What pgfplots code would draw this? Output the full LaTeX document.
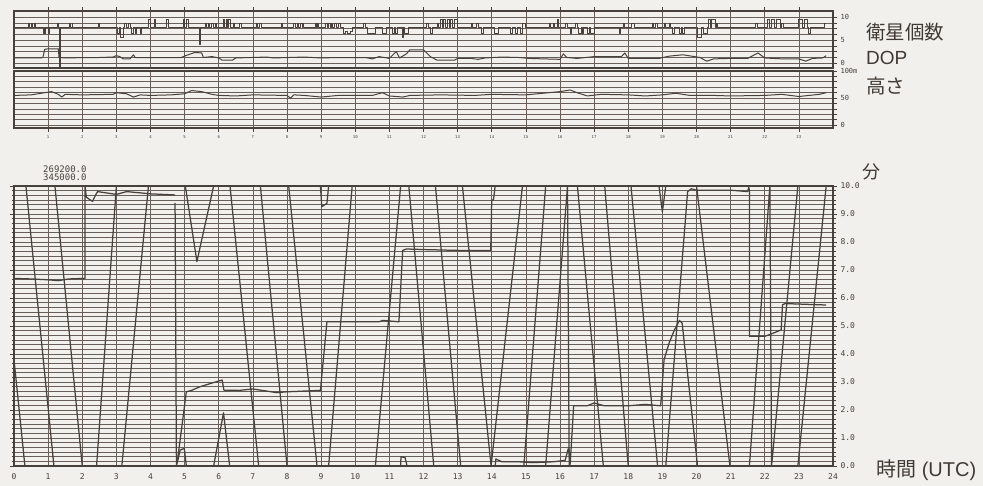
\documentclass[border=0pt]{standalone}
\usepackage{pgfplots}
\pgfplotsset{compat=1.18}
\usepackage{fontspec}
\setmainfont{DejaVu Sans}
\setmonofont{DejaVu Sans Mono}
\newfontfamily\jpfont{Noto Sans CJK JP}
\newfontfamily\latinfont{Liberation Sans}
\definecolor{paper}{HTML}{F1F0EC}
\definecolor{ink}{HTML}{48403A}
\definecolor{rule}{HTML}{675F58}

\pgfplotsset{
  recorder/.style={
    scale only axis, anchor=south west,
    width=819pt, xmin=0, xmax=24,
    axis line style={ink, line width=1.1pt},
    grid style={rule, line width=0.7pt},
    minor grid style={rule, line width=0.7pt},
    tick style={ink, line width=0.7pt},
    tick align=outside,
    major tick length=4pt, minor tick length=2.5pt,
    /pgf/number format/assume math mode=true,
    ticklabel style={text=ink, font=\ttfamily\fontsize{7.5}{8}\selectfont},
  },
  trace/.style={ink, line width=1.25pt, line join=round},
}

\begin{document}
\begin{tikzpicture}
\fill[paper] (0pt,0pt) rectangle (983pt,486pt);
\useasboundingbox (0pt,0pt) rectangle (983pt,486pt);

% ---------- satellites and DOP ----------
\begin{axis}[recorder, at={(14pt,418pt)}, height=57pt,
  ymin=-1.1, ymax=11.4,
  xtick={1,...,23}, xticklabels={}, xtick pos=right, xmajorgrids,
  ytick={0,1.25,...,10}, yticklabels={0,,,,5,,,,10},
  ytick pos=right, yticklabel pos=right, ymajorgrids,
  yticklabel style={font=\ttfamily\fontsize{7}{7}\selectfont}]
% satellites in view
\addplot[trace, const plot, line width=1pt] coordinates {
(0,7.7)
(0.42,8.6)(0.45,7.7)(0.5,8.6)(0.53,7.7)(0.6,8.6)(0.63,7.7)
(0.86,6.5)(0.89,7.7)(0.9,6.5)(0.93,7.7)(1.0,6.5)(1.03,7.7)
(1.27,8.6)(1.3,7.7)(1.33,-1.0)(1.35,7.7)
(1.64,8.6)(1.67,7.7)(1.7,8.6)(1.72,7.7)
(2.47,8.6)(2.5,7.7)
(3.03,6.5)(3.1,7.7)(3.12,5.5)(3.2,7.7)(3.25,8.6)(3.3,7.7)(3.35,8.6)(3.42,7.7)(3.45,6.5)(3.5,7.7)(3.55,6.5)(3.6,7.7)(3.72,6.5)(3.75,7.7)
(3.95,9.6)(4.0,7.7)(4.12,9.6)(4.15,7.7)(4.48,9.6)(4.52,7.7)(4.97,9.6)(5.0,7.7)(5.05,9.6)(5.1,7.7)
(5.43,4.0)(5.47,7.7)
(5.6,8.6)(5.64,7.7)(5.7,8.6)(5.74,7.7)(5.8,8.6)(5.84,7.7)(5.9,8.6)(5.94,7.7)
(6.14,9.6)(6.18,7.7)(6.22,9.6)(6.26,7.7)(6.28,9.6)(6.33,7.7)
(6.42,8.6)(6.45,7.7)(6.62,8.6)(6.67,7.7)
(7.1,8.6)(7.14,7.7)(7.2,8.6)(7.25,7.7)
(7.85,8.6)(7.88,7.7)
(8.2,8.6)(8.24,7.7)(8.3,8.6)(8.34,7.7)(8.4,8.6)(8.44,7.7)(8.46,8.6)(8.49,7.7)
(8.83,8.6)(8.87,7.7)(8.9,8.6)(8.93,7.7)
(9.13,8.6)(9.18,7.7)(9.22,8.6)(9.27,7.7)(9.3,8.6)(9.34,7.7)(9.4,8.6)(9.45,7.7)(9.5,8.6)(9.56,7.7)
(9.67,6.5)(9.72,7.0)(9.78,6.5)(9.85,7.0)(9.91,7.7)
(10.25,8.6)(10.3,7.7)(10.35,6.5)(10.6,7.7)
(10.8,6.5)(10.93,7.7)(11.08,6.5)(11.15,7.7)(11.17,6.5)(11.23,7.7)
(11.38,5.5)(11.42,7.7)(11.45,6.5)(11.57,7.7)
(12.1,8.6)(12.15,7.7)(12.2,6.5)(12.25,7.7)
(12.4,8.6)(12.45,7.7)(12.5,9.6)(12.55,7.7)(12.6,9.6)(12.65,7.7)(12.7,9.6)(12.76,7.7)(12.8,9.6)(12.85,7.7)(12.9,9.6)(12.99,7.7)
(13.4,8.6)(13.45,7.7)(13.55,8.6)(13.6,7.7)(13.7,6.5)(13.77,7.7)
(14.07,6.5)(14.21,7.7)
(14.55,6.5)(14.6,7.7)(14.7,6.5)(14.75,7.7)(14.85,6.5)(14.9,8.6)(15.0,7.7)
(15.68,8.6)(15.72,7.7)(15.8,8.6)(15.83,7.7)(15.93,9.6)(15.96,7.7)
(16.17,8.6)(16.22,7.7)(16.3,6.5)(16.35,7.7)(16.45,8.6)(16.5,7.7)(16.55,6.5)(16.62,7.7)(16.65,6.5)(16.7,7.7)(16.8,6.5)(16.85,7.7)(16.9,6.5)(17.0,7.7)
(17.73,6.5)(17.78,7.7)(17.85,8.6)(17.9,7.7)(18.1,8.6)(18.17,7.7)
(18.71,8.6)(18.75,7.7)(18.8,8.6)(18.86,7.7)
(19.05,8.6)(19.1,7.7)(19.2,8.6)(19.25,7.7)(19.3,6.5)(19.35,7.7)(19.5,6.5)(19.55,7.7)(19.6,6.5)(19.65,7.7)
(20.03,5.5)(20.15,7.7)(20.2,6.5)(20.33,7.7)(20.35,9.6)(20.4,7.7)(20.45,9.6)(20.55,7.7)(20.58,8.6)(20.62,7.7)
(21.74,8.6)(21.78,7.7)
(22.08,9.6)(22.15,7.7)(22.2,9.6)(22.3,7.7)(22.35,9.6)(22.45,7.7)(22.5,8.6)(22.55,7.7)
(23.0,9.6)(23.1,7.7)(23.15,9.6)(23.25,7.7)(23.28,6.5)(23.35,7.7)(23.75,8.6)(23.8,8.6)
};
% DOP
\addplot[trace, line width=1pt] coordinates {
(0,1.1)(0.8,1.1)(0.85,1.3)(0.9,3.0)(1.0,3.1)(1.3,3.1)(1.32,1.2)(1.5,1.1)(2.2,1.2)(2.5,1.2)
(2.9,1.3)(3.0,1.6)(3.1,1.4)(3.2,0.9)(3.4,0.9)(3.5,1.8)(3.55,1.2)(4.0,1.15)(4.9,1.2)(5.1,1.8)
(5.3,2.3)(5.5,2.2)(5.55,1.2)(5.8,1.4)(6.0,1.1)(6.1,0.6)(6.4,0.6)(6.5,1.1)(7.4,1.3)(7.6,1.1)
(8.5,1.3)(9.0,1.1)(9.5,1.2)(10.3,1.2)(10.5,0.9)(10.7,1.4)(11.0,1.0)(11.2,2.5)(11.3,1.1)(11.5,2.0)
(11.6,2.9)(12.0,2.9)(12.2,1.4)(12.4,0.6)(12.9,0.6)(13.0,1.0)(13.4,1.0)(13.6,0.8)(13.8,1.1)(14.3,1.3)
(14.8,1.2)(15.1,1.0)(15.5,0.9)(16.0,0.8)(16.1,2.0)(16.2,1.2)(16.5,1.0)(17.0,1.4)(17.8,1.4)(17.9,2.2)
(18.0,1.0)(18.9,1.0)(19.2,1.5)(19.6,1.8)(20.1,1.2)(20.3,0.4)(20.5,0.9)(21.0,1.0)(21.5,1.0)(21.8,2.2)
(22.0,1.1)(22.5,0.9)(23.0,0.9)(23.2,0.4)(23.4,1.0)(23.7,1.1)(23.8,1.6)
};
\end{axis}

% ---------- antenna height ----------
\begin{axis}[recorder, at={(14pt,358pt)}, height=57pt,
  ymin=-5, ymax=100,
  xtick={1,...,23}, xtick pos=left, xmajorgrids,
  xticklabel style={font=\ttfamily\fontsize{4}{4}\selectfont},
  ytick={0,10,...,100}, yticklabels={0,,,,,50,,,,,100m},
  ytick pos=right, yticklabel pos=right, ymajorgrids,
  yticklabel style={font=\ttfamily\fontsize{7}{7}\selectfont}]
\addplot[trace, line width=1pt] coordinates {
(0,55)(0.5,56)(0.9,60)(1.1,62)(1.3,57)(1.4,52)(1.5,57)(2.0,56)(2.9,57)(3.0,60)
(3.3,58)(3.5,52)(3.7,56)(4.0,55)(4.6,56)(5.0,58)(5.2,64)(5.5,62)(5.8,57)(6.0,55)
(6.5,54)(7.0,56)(8.0,55)(8.1,50)(8.2,56)(8.5,55)(9.0,52)(9.5,55)(10.5,55)(10.8,60)
(11.0,54)(11.4,52)(11.6,55)(12.5,56)(13.5,55)(14.0,57)(15.0,56)(15.5,59)(16.0,62)(16.3,65)
(16.5,60)(16.8,54)(17.2,57)(18.0,56)(18.5,54)(19.0,56)(19.4,59)(19.8,55)(20.5,55)(21.0,54)
(22.0,55)(22.5,57)(23.0,53)(23.6,57)(23.8,60)
};
\end{axis}

% ---------- position in minutes ----------
\begin{axis}[recorder, at={(14pt,20pt)}, height=280pt,
  ymin=0, ymax=10,
  xtick={0,...,24}, xtick pos=left, xmajorgrids,
  xtick style={draw=none},
  ytick={0,...,10}, minor y tick num=5,
  ytick pos=both, yticklabel pos=right,
  ymajorgrids, yminorgrids,
  yticklabel={\pgfmathprintnumber[fixed,fixed zerofill,precision=1]{\tick}},
  ticklabel style={font=\ttfamily\fontsize{8}{8}\selectfont}]
% rapidly wrapping trace
\addplot[trace] coordinates {(0,3.8)(0.32,0)};
\addplot[trace] coordinates {(0.35,10)(1.17,0)};
\addplot[trace] coordinates {(1.2,10)(2.0,0)};
\addplot[trace] coordinates {(2.42,0)(3.0,10)};
\addplot[trace] coordinates {(3.16,0)(3.94,10)};
\addplot[trace] coordinates {(4.72,9.4)(4.76,0)(4.87,0.57)(4.99,0.63)(5.05,0)};
\addplot[trace] coordinates {(5.02,10)(5.36,7.3)(5.85,10)};
\addplot[trace] coordinates {(5.85,0)(6.14,1.9)(6.32,0)};
\addplot[trace] coordinates {(6.33,10)(7.17,0)};
\addplot[trace] coordinates {(7.22,10)(8.0,0)};
\addplot[trace] coordinates {(8.05,10)(8.88,0)};
\addplot[trace] coordinates {(8.98,10)(9.02,9.26)(9.17,9.38)(9.22,10)};
\addplot[trace] coordinates {(9.22,0)(9.91,10)};
\addplot[trace] coordinates {(10.59,0)(11.33,10)};
\addplot[trace] coordinates {(11.33,0)(11.34,0.33)(11.46,0.3)(11.52,0)};
\addplot[trace] coordinates {(11.57,10)(12.3,0)};
\addplot[trace] coordinates {(12.35,10)(13.09,0)};
\addplot[trace] coordinates {(13.14,10)(13.98,0)(14.9,10)};
\addplot[trace] coordinates {(14.94,0)(15.58,10)};
\addplot[trace] coordinates {(15.58,0)(16.22,10)(16.27,0)};
\addplot[trace] coordinates {(16.51,10)(17.27,0)};
\addplot[trace] coordinates {(17.31,10)(18.0,0)};
\addplot[trace] coordinates {(18.08,10)(18.86,0)};
\addplot[trace] coordinates {(18.9,10)(19.0,9.08)(19.1,10)};
\addplot[trace] coordinates {(20.0,10)(20.98,0)};
\addplot[trace] coordinates {(21.55,0)(22.15,10)(22.2,0)(22.97,10)};
\addplot[trace] coordinates {(22.97,0)(23.8,10)};
% slowly stepping traces
\addplot[trace] coordinates {(0,6.7)(0.5,6.68)(1.0,6.65)(1.3,6.62)(1.6,6.68)(2.08,6.7)(2.08,10)(2.12,9.6)(2.3,9.45)(2.4,9.7)(2.45,9.8)(3.0,9.7)(3.3,9.8)(4.0,9.72)(4.72,9.68)};
\addplot[trace] coordinates {(4.78,0.1)(5.05,2.65)(5.2,2.7)(5.45,2.83)(5.85,2.98)(6.1,3.07)(6.15,2.71)(6.6,2.7)(7.0,2.75)(7.7,2.62)(8.0,2.65)(8.98,2.7)(9.17,5.15)(10.0,5.15)(10.7,5.15)(10.8,5.2)(11.28,5.15)(11.39,7.7)(11.5,7.75)(12.0,7.73)(13.0,7.7)(13.97,7.7)(14.0,9.5)(14.05,9.5)(14.1,10)};
\addplot[trace] coordinates {(14.1,0)(14.12,0.25)(14.3,0.15)(14.8,0.15)(15.2,0.12)(15.8,0.15)(16.15,0.2)(16.25,0.65)(16.3,0.05)};
\addplot[trace] coordinates {(16.3,0.1)(16.4,2.15)(16.8,2.15)(17.0,2.25)(17.3,2.15)(18.0,2.15)(18.5,2.2)(18.95,2.15)(19.05,3.8)(19.2,4.4)(19.35,4.85)(19.5,5.2)(19.58,5.1)(20.03,0)};
\addplot[trace] coordinates {(19.1,0)(19.74,9.8)(19.85,9.9)(20.0,9.85)(21.0,9.85)(21.5,9.8)(21.53,9.95)(21.55,9.85)(21.55,4.63)(22.0,4.63)(22.2,4.72)(22.48,4.86)(22.52,5.76)(22.6,5.8)(23.8,5.75)};
\end{axis}

% ---------- captions ----------
\node[anchor=south west, inner sep=0, text=ink, font=\ttfamily\fontsize{9}{9}\selectfont] at (43pt,313pt) {269200.0};
\node[anchor=south west, inner sep=0, text=ink, font=\ttfamily\fontsize{9}{9}\selectfont] at (43pt,305pt) {345000.0};
\begin{scope}[every node/.style={anchor=west, inner sep=0, text=ink!90!black}]
\node[font=\jpfont\fontsize{19.5}{20}\selectfont] at (866pt,454pt) {衛星個数};
\node[font=\latinfont\fontsize{19}{20}\selectfont] at (866pt,428pt) {DOP};
\node[font=\jpfont\fontsize{19.5}{20}\selectfont] at (866pt,400pt) {高さ};
\node[anchor=center, font=\jpfont\fontsize{18}{18}\selectfont] at (871pt,314pt) {分};
\node[font=\jpfont\fontsize{20}{20}\selectfont] at (876pt,16pt) {時間\latinfont\ (UTC)};
\end{scope}
\end{tikzpicture}
\end{document}
